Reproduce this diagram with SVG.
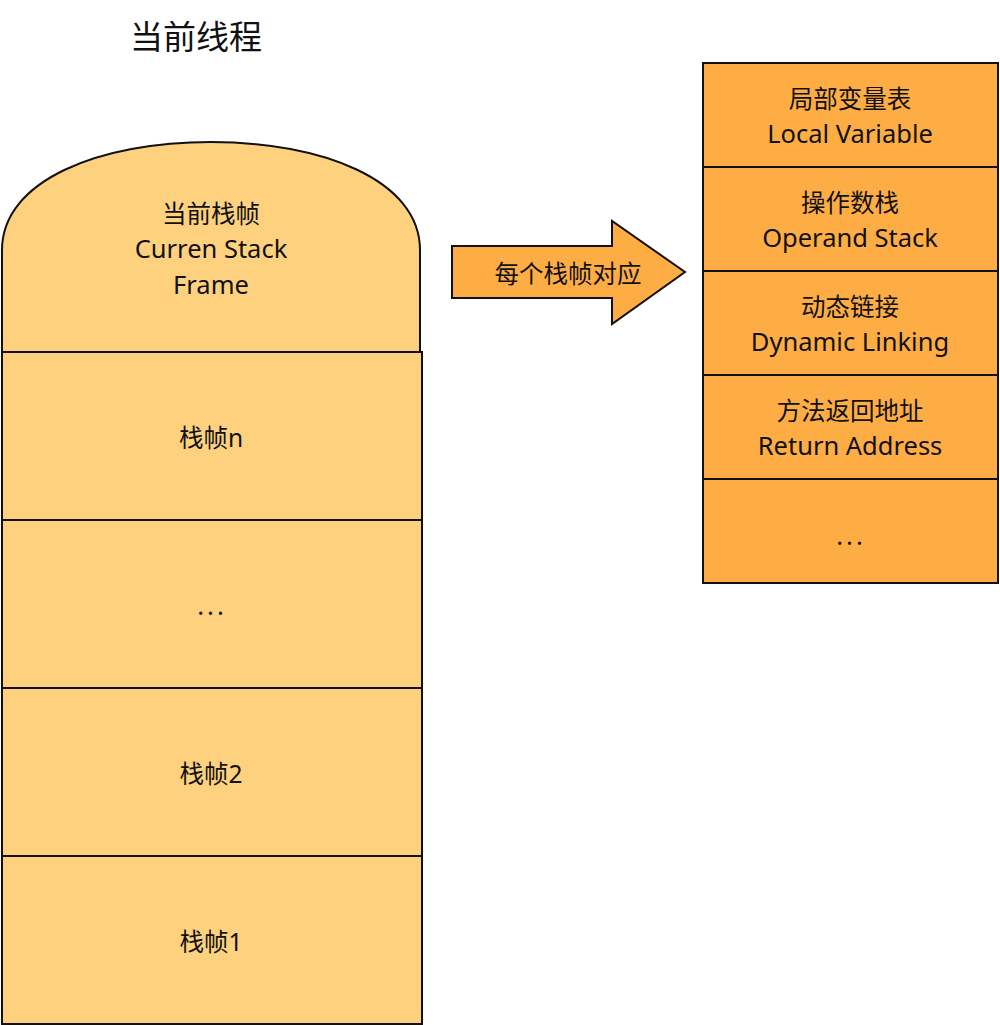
<svg xmlns="http://www.w3.org/2000/svg" width="1000" height="1025" viewBox="0 0 1000 1025">
<style>
text{font-family:"Noto Sans","Noto Sans CJK SC",sans-serif;font-size:25.5px;fill:#111;text-anchor:middle;dominant-baseline:central}
.c{font-size:24.5px}
.l{fill:#FED17F;stroke:#111;stroke-width:2}
.r{fill:#FEAD45;stroke:#111;stroke-width:2}
.t{font-size:33px}
.d{letter-spacing:3px}
</style>
<rect width="1000" height="1025" fill="#fff"/>
<text class="t" x="196" y="36">当前线程</text>
<g id="current">
<path class="l" d="M2,352 V250 C2,180 100,142 211,142 C322,142 420,180 420,250 V352 Z"/>
<text class="c" x="211" y="213">当前栈帧</text>
<text x="211" y="248">Curren Stack</text>
<text x="211" y="284">Frame</text>
</g>
<g id="frame-n"><rect class="l" x="2" y="352" width="420" height="168"/><text class="c" x="211" y="437">栈帧n</text></g>
<g id="frame-dots"><rect class="l" x="2" y="520" width="420" height="168"/><text class="d" x="212" y="605">...</text></g>
<g id="frame-2"><rect class="l" x="2" y="688" width="420" height="168"/><text class="c" x="211" y="773">栈帧2</text></g>
<g id="frame-1"><rect class="l" x="2" y="856" width="420" height="168"/><text class="c" x="211" y="941">栈帧1</text></g>
<g id="connectors">
<path class="r" d="M452,246 H612 V221 L685,272 L612,324 V298 H452 Z"/>
<text class="c" x="568" y="273">每个栈帧对应</text>
</g>
<g id="local"><rect class="r" x="703" y="63" width="295" height="104"/><text class="c" x="850" y="98">局部变量表</text><text x="850" y="133">Local Variable</text></g>
<g id="operand"><rect class="r" x="703" y="167" width="295" height="104"/><text class="c" x="850" y="202">操作数栈</text><text x="850" y="237">Operand Stack</text></g>
<g id="dynamic"><rect class="r" x="703" y="271" width="295" height="104"/><text class="c" x="850" y="306">动态链接</text><text x="850" y="341">Dynamic Linking</text></g>
<g id="return"><rect class="r" x="703" y="375" width="295" height="104"/><text class="c" x="850" y="410">方法返回地址</text><text x="850" y="445">Return Address</text></g>
<g id="more"><rect class="r" x="703" y="479" width="295" height="104"/><text class="d" x="851" y="535">...</text></g>
</svg>
